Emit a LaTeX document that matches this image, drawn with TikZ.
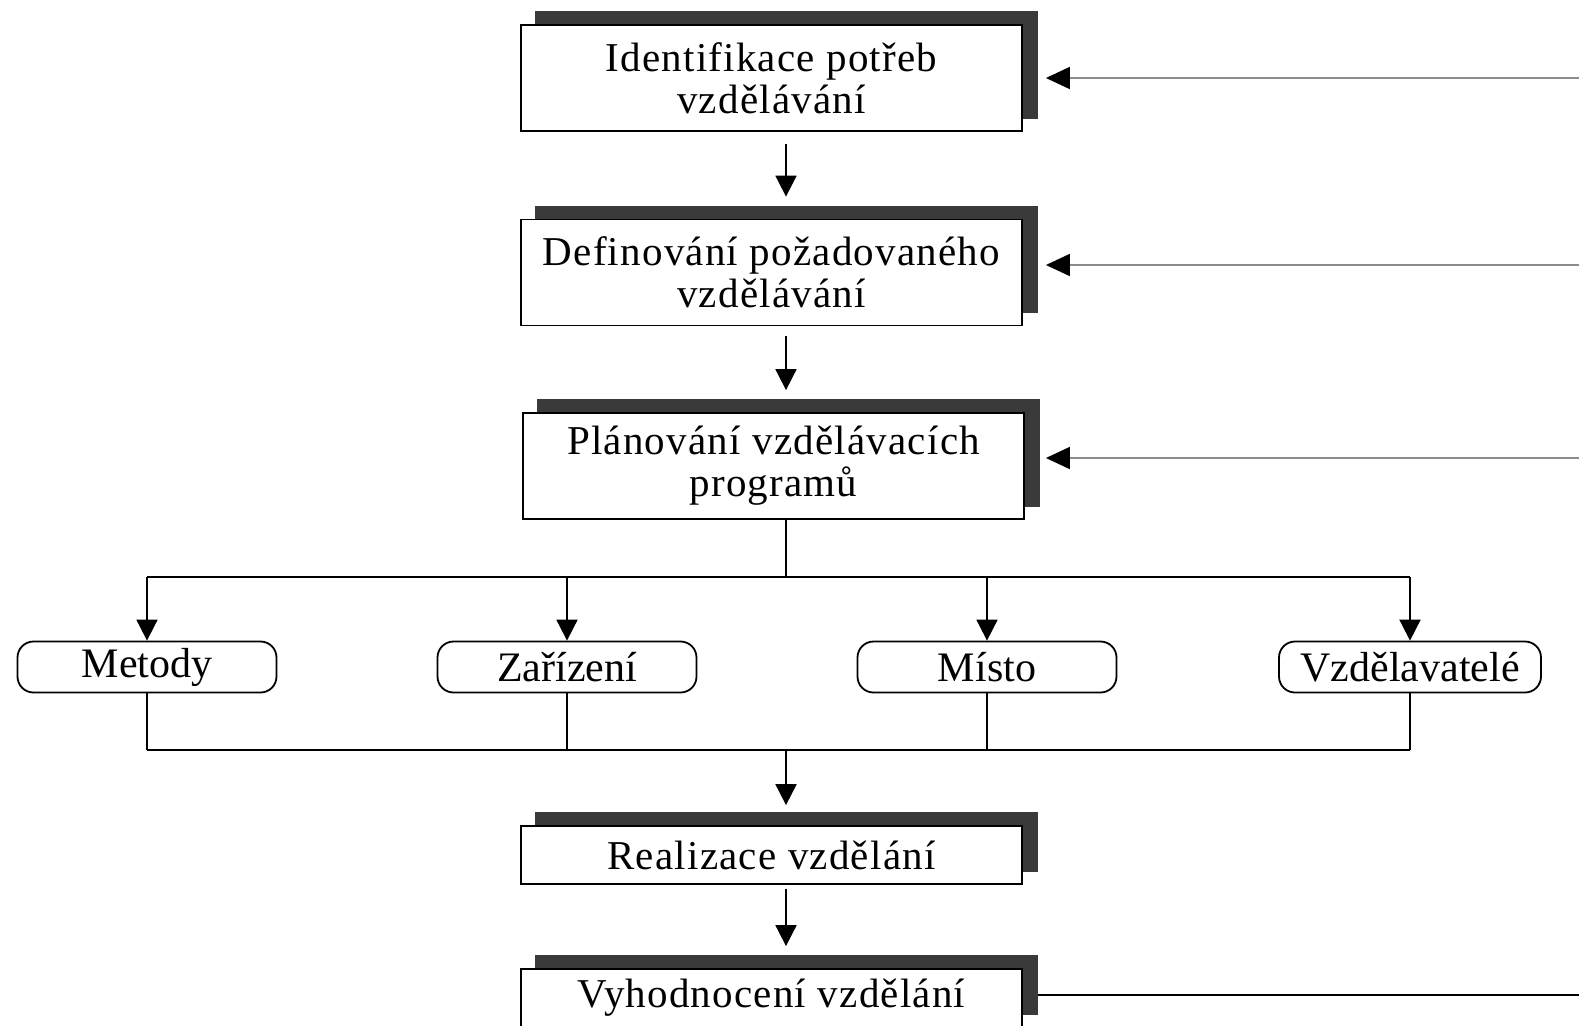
\documentclass[tikz,border=0pt]{standalone}
\usepackage{fontspec}
\setmainfont{Liberation Serif}
\newfontfamily\boxfont[LetterSpace=3]{Liberation Serif}
\usetikzlibrary{arrows.meta,calc,backgrounds}
\definecolor{shadowc}{HTML}{3A3A3A}
\definecolor{sidec}{HTML}{8C8C8C}
\begin{document}
\begin{tikzpicture}[x=0.5pt,y=-0.5pt,
  mainbox/.style={draw=black, line width=0.9pt, fill=white, minimum width=250.5pt,
    align=center, inner sep=0pt, font=\boxfont\fontsize{20.5}{21}\selectfont},
  roundbox/.style={draw=black, line width=0.9pt, fill=white, rounded corners=8pt,
    minimum height=25.5pt, inner sep=0pt, font=\fontsize{21}{21}\selectfont},
  conn/.style={line width=0.9pt, draw=black},
  arr/.style={conn, -{Triangle[length=10.5pt,width=10.5pt]}},
  sidearr/.style={line width=0.9pt, draw=sidec, -{Triangle[length=12pt,width=11pt,color=black]}}]
\useasboundingbox (0,0) rectangle (1579,1025);
% main boxes
\node[mainbox, minimum height=53pt] (b1) at (771.5,78) {Identifikace potřeb\\vzdělávání};
\node[mainbox, minimum height=53pt] (b2) at (771.5,272.5) {Definování požadovaného\\vzdělávání};
\node[mainbox, minimum height=53pt] (b3) at (773.5,466) {Plánování vzdělávacích\\programů};
\node[mainbox, minimum height=29pt] (b4) at (771.5,855) {Realizace vzdělání};
\node[mainbox, minimum height=29pt] (b5) at (771.5,998) {Vyhodnocení vzdělání};
% shadows
\begin{scope}[on background layer]
\foreach \b in {b1,b2,b3,b4,b5}
  \fill[shadowc] ($(\b.south west)+(15,-13)$) rectangle ($(\b.north east)+(15,-13)$);
\end{scope}
% rounded boxes
\node[roundbox, minimum width=129.5pt] (m1) at (147,667) {Metody};
\node[roundbox, minimum width=129.5pt] (m2) at (567,667) {Zařízení};
\node[roundbox, minimum width=129.5pt] (m3) at (987,667) {Místo};
\node[roundbox, minimum width=131pt] (m4) at (1410,667) {Vzdělavatelé};
% helper coordinates
\coordinate (cx) at (786,0);
\coordinate (ht) at (0,577);
\coordinate (hb) at (0,750);
% vertical flow
\draw[arr] ($(cx |- b1.south)+(0,12)$) -- ($(cx |- b2.north)+(0,-22)$);
\draw[arr] ($(cx |- b2.south)+(0,10)$) -- ($(cx |- b3.north)+(0,-22)$);
\draw[conn] (cx |- b3.south) -- (cx |- ht);
\draw[conn] (m1 |- ht) -- (m4 |- ht);
\foreach \m in {m1,m2,m3,m4}
  \draw[arr] (\m |- ht) -- (\m.north);
\foreach \m in {m1,m2,m3,m4}
  \draw[conn] (\m.south) -- (\m |- hb);
\draw[conn] (m1 |- hb) -- (m4 |- hb);
\draw[arr] (cx |- hb) -- ($(cx |- b4.north)+(0,-20)$);
\draw[arr] ($(cx |- b4.south)+(0,4)$) -- ($(cx |- b5.north)+(0,-22)$);
% feedback lines on the right
\coordinate (r1) at (1579,78);
\coordinate (r2) at (1579,265);
\coordinate (r3) at (1579,458);
\coordinate (r4) at (1579,995);
\draw[sidearr] (r1) -- ($(b1.east |- r1)+(23,0)$);
\draw[sidearr] (r2) -- ($(b2.east |- r2)+(23,0)$);
\draw[sidearr] (r3) -- ($(b3.east |- r3)+(21,0)$);
\draw[conn] ($(b5.east |- r4)+(15,0)$) -- (r4);
\end{tikzpicture}
\end{document}
